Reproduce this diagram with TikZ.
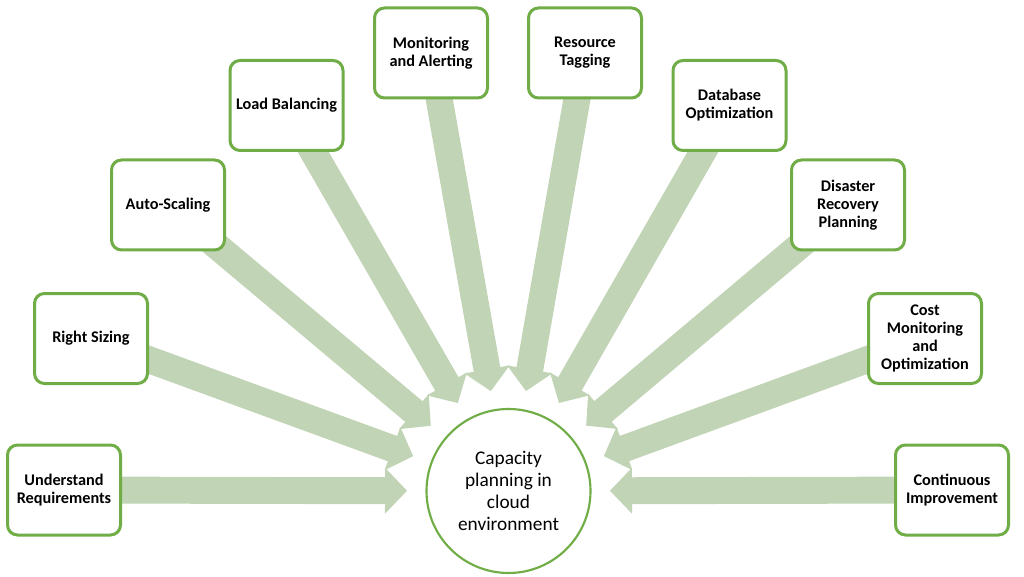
\documentclass[tikz,border=0pt]{standalone}
\usepackage{fontspec}
\setmainfont{Carlito}
\usetikzlibrary{calc,backgrounds}
\definecolor{boxgreen}{RGB}{112,173,71}
\definecolor{arrowgreen}{RGB}{194,212,182}
\begin{document}
\begin{tikzpicture}[x=0.75pt,y=-0.75pt,
  stepbox/.style={draw=boxgreen, line width=2.25pt, rounded corners=7.5pt, fill=white,
    minimum width=84.75pt, minimum height=67.5pt, align=center,
    font=\fontsize{12.2}{13.5}\selectfont\bfseries, inner sep=0pt},
  hub/.style={circle, draw=boxgreen, line width=1.6pt, fill=white, minimum size=123pt,
    align=center, font=\fontsize{14.5}{16.5}\selectfont, inner sep=0pt},
  flow/.style={fill=arrowgreen, draw=none}]
\useasboundingbox (0,0) rectangle (1024,577);
\node[hub] (hub) at (508.5,491) {Capacity\\planning in\\cloud\\environment};
\node[stepbox] (b1) at (64,490) {Understand\\Requirements};
\node[stepbox] (b2) at (91,338.5) {Right Sizing};
\node[stepbox] (b3) at (168,205) {Auto-Scaling};
\node[stepbox] (b4) at (286.5,105.5) {Load Balancing};
\node[stepbox] (b5) at (431,53) {Monitoring\\and Alerting};
\node[stepbox] (b6) at (585,53) {Resource\\Tagging};
\node[stepbox] (b7) at (729.5,105.5) {Database\\Optimization};
\node[stepbox] (b8) at (848,205) {Disaster\\Recovery\\Planning};
\node[stepbox] (b9) at (925,338.5) {Cost\\Monitoring\\and\\Optimization};
\node[stepbox] (b10) at (952,490) {Continuous\\Improvement};
\begin{scope}[on background layer]
\foreach \b in {b1,b2,b3,b4,b5,b6,b7,b8,b9,b10}{
  \fill[flow] let \p1=(\b.center), \p2=(hub.center),
        \n1={atan2(\y2-\y1,\x2-\x1)},
        \n2={veclen(\x2-\x1,\y2-\y1)-76.1pt},
        \n3={\n2-16.5pt} in
    [shift={(\p1)}, rotate=\n1]
    (0pt,10.1pt) -- (\n3,10.1pt) -- (\n3,17.25pt) -- (\n2,0pt)
    -- (\n3,-17.25pt) -- (\n3,-10.1pt) -- (0pt,-10.1pt) -- cycle;
}
\end{scope}
\end{tikzpicture}
\end{document}
